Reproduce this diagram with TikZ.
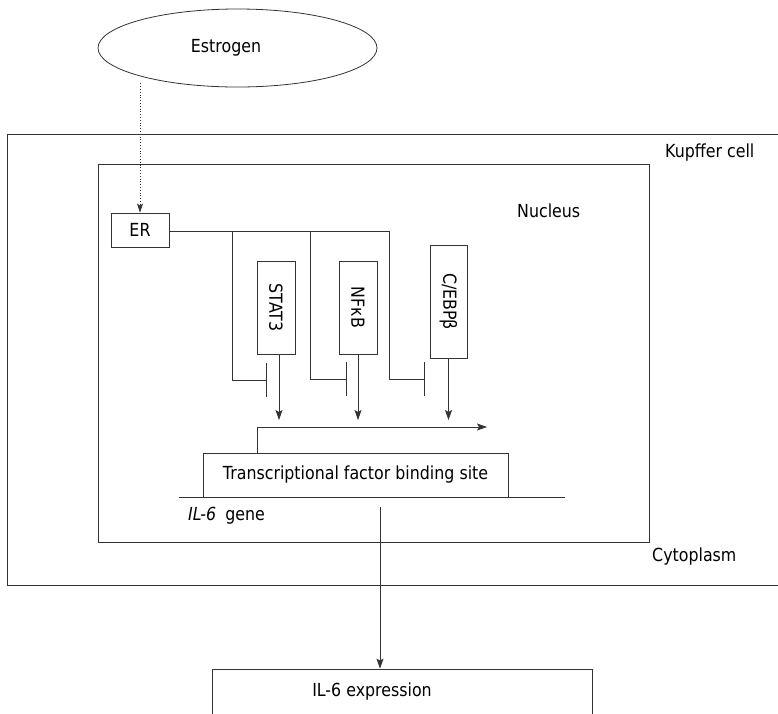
\documentclass[tikz,border=0pt]{standalone}
\usepackage{fontspec}
\setmainfont[FakeStretch=0.88]{DejaVu Sans}
\usepackage{tikz}
\usetikzlibrary{shapes.geometric,arrows.meta,positioning}
\tikzset{
  box/.style   = {draw=black!80, line width=0.8pt, inner sep=0pt},
  lbl/.style   = {inner sep=0pt, anchor=west},
  link/.style  = {draw=black!80, line width=0.8pt},
  act/.style   = {link, -{Stealth[length=10pt,width=7pt,inset=2pt]}},
  block/.style = {link, -{Bar[width=34pt]}}
}
\begin{document}
\begin{tikzpicture}[x=1pt, y=-1pt, font=\fontsize{18}{20}\selectfont]
\clip (0,0) rectangle (778,713);
\fill[white] (0,0) rectangle (778,713);
% cell and nucleus
\draw[link] (7,134) rectangle (795,585);
\draw[link] (98,164) rectangle (649,542);
\node[lbl] (kupffer) at (665,153) {Kupffer cell};
\node[lbl] (nucleus) at (517,211) {Nucleus};
\node[lbl] (cyto) at (652,557) {Cytoplasm};
% ligand and receptor
\node[box, ellipse, minimum width=279pt, minimum height=78pt] (estrogen) at (237.5,48) {};
\node (estrolbl) at (226,48) {Estrogen};
\node[box, minimum width=58pt, minimum height=34pt] (er) at (140,230) {ER};
\draw[link, dotted, -{Stealth[length=9pt,width=6pt,inset=2pt]}]
  ([yshift=4pt]er.north |- estrogen.south) -- (er.north);
% transcription factors
\node[box, minimum width=38pt, minimum height=93pt] (stat3) at (276,307.5) {\rotatebox{-90}{STAT3}};
\node[box, minimum width=38pt, minimum height=93pt] (nfkb) at (358,307.5) {\rotatebox{-90}{NFκB}};
\node[box, minimum width=37pt, minimum height=113pt] (cebp) at (448.5,301.5) {\rotatebox{-90}{C/EBPβ}};
% gene
\node[box, minimum width=305pt, minimum height=44pt] (tfbs) at (355.5,475) {Transcriptional factor binding site};
\coordinate (gl) at (179,497);
\coordinate (gr) at (565,497);
\draw[link] (gl) -- (gr);
\node[lbl] (gene) at (188,516) {\textit{IL-6}\enspace gene};
\coordinate (tss) at (257,427);
\draw[act] (tss |- tfbs.north) -- (tss) -- (487,427);
% ER inhibition
\coordinate (b1) at (232,231);
\coordinate (b2) at (310,231);
\coordinate (b3) at (389,231);
\draw[link] (er.east |- b1) -- (b3);
\draw[block] (b1) |- (267,380);
\draw[block] (b2) |- (347,379);
\draw[block] (b3) |- (425,379);
% activation
\draw[act] ([xshift=3pt]stat3.south) -- ([xshift=3pt]stat3.south |- 0,420);
\draw[act] (nfkb.south) -- (nfkb.south |- 0,420);
\draw[act] (cebp.south) -- (cebp.south |- 0,420);
% expression
\node[box, minimum width=380pt, minimum height=60pt] (expr) at (402,699) {};
\node (exprlbl) at (372,692) {IL-6 expression};
\coordinate (gout) at (380,507);
\draw[act] (gout) -- (gout |- expr.north);
\end{tikzpicture}
\end{document}
